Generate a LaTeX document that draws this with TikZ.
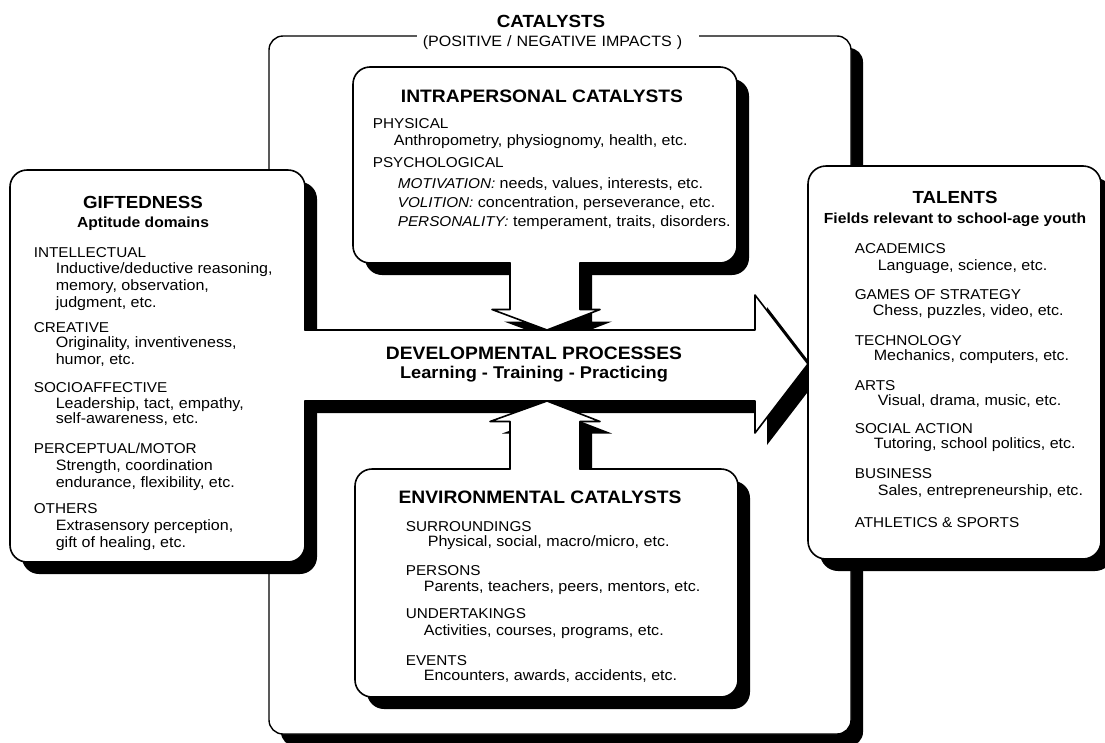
\documentclass[tikz,border=0pt]{standalone}
\usepackage{fontspec}
\setmainfont{Liberation Sans}[FakeStretch=1.07]
\newcommand\capit[1]{{\fontsize{14.3}{16}\selectfont\itshape #1}}
\begin{document}
\begin{tikzpicture}[x=1pt,y=-1pt, line width=1.6pt, line join=round, line cap=round,
  shad/.style={fill=black, shift={(12,12)}},
  lab/.style={anchor=base west, inner sep=0pt, font=\fontsize{14.3}{16}\selectfont},
  itm/.style={anchor=base west, inner sep=0pt, font=\fontsize{15}{17}\selectfont},
  hd/.style={anchor=base, inner sep=0pt, font=\fontsize{18}{20}\selectfont\bfseries},
  subhd/.style={anchor=base, inner sep=0pt, font=\fontsize{14.6}{16}\selectfont\bfseries}]
\useasboundingbox (0,0) rectangle (1105,742);
\fill[white] (0,0) rectangle (1105,742);
% outer frame
\fill[shad, rounded corners=14pt] (269,36) rectangle (851,734);
\draw[fill=white, line width=1.4pt, rounded corners=14pt] (269,36) rectangle (851,734);
\node[hd, font=\fontsize{17.6}{20}\selectfont\bfseries] (cat) at (551,27) {CATALYSTS};
\node[fill=white, anchor=west, inner sep=0pt, minimum height=20pt, text width=282pt, align=left,
  font=\fontsize{15}{17}\selectfont] (impacts) at (416,43) {\hspace*{6pt}(POSITIVE / NEGATIVE IMPACTS )};
% shadows
\fill[shad, rounded corners=17pt] (10,170) rectangle (305,562);
\fill[shad] (295,330) -- (755,330) -- (755,295) -- (808,364) -- (755,433) -- (755,401) -- (295,401) -- cycle;
\fill[shad, rounded corners=17pt] (353,67) rectangle (737,263);
\fill[shad] (510,250) -- (510,309.5) -- (492,309.5) -- (547,330) -- (600,309.5) -- (580,309.5) -- (580,250) -- cycle;
\fill[shad, rounded corners=17pt] (355,469) rectangle (738,697);
\fill[shad] (510,480) -- (510,421.5) -- (490,421.5) -- (547,401) -- (600,421.5) -- (580,421.5) -- (580,480) -- cycle;
\fill[shad, rounded corners=18pt] (808,166) rectangle (1101,559);
% white fills
\fill[white, rounded corners=17pt] (10,170) rectangle (305,562);
\fill[white] (295,330) -- (755,330) -- (755,295) -- (808,364) -- (755,433) -- (755,401) -- (295,401) -- cycle;
\fill[white, rounded corners=17pt] (353,67) rectangle (737,263);
\fill[white] (510,250) -- (510,309.5) -- (492,309.5) -- (547,330) -- (600,309.5) -- (580,309.5) -- (580,250) -- cycle;
\fill[white, rounded corners=17pt] (355,469) rectangle (738,697);
\fill[white] (510,480) -- (510,421.5) -- (490,421.5) -- (547,401) -- (600,421.5) -- (580,421.5) -- (580,480) -- cycle;
\fill[white, rounded corners=18pt] (808,166) rectangle (1101,559);
% outlines
\draw[rounded corners=17pt] (305,401) -- (305,562) -- (10,562) -- (10,170) -- (305,170) -- (305,330);
\draw (305,330) -- (755,330) -- (755,295) -- (808,364) -- (755,433) -- (755,401) -- (305,401);
\draw[rounded corners=17pt] (580,263) -- (737,263) -- (737,67) -- (353,67) -- (353,263) -- (510,263);
\draw (510,263) -- (510,309.5) -- (492,309.5) -- (547,330) -- (600,309.5) -- (580,309.5) -- (580,263);
\draw[rounded corners=17pt] (510,469) -- (355,469) -- (355,697) -- (738,697) -- (738,469) -- (580,469);
\draw (510,469) -- (510,421.5) -- (490,421.5) -- (547,401) -- (600,421.5) -- (580,421.5) -- (580,469);
\draw[rounded corners=18pt] (808,166) rectangle (1101,559);
% developmental processes
\node[hd] (dev1) at (534,359) {DEVELOPMENTAL PROCESSES};
\node[hd, font=\fontsize{17}{19}\selectfont\bfseries] (dev2) at (534,378) {Learning - Training - Practicing};
% giftedness
\node[hd, font=\fontsize{17.5}{20}\selectfont\bfseries] (g0) at (143,208) {GIFTEDNESS};
\node[subhd] (g1) at (143,227) {Aptitude domains};
\node[lab] (g2) at (33,257) {INTELLECTUAL};
\node[itm] (g3) at (55,273) {Inductive/deductive reasoning,};
\node[itm] (g4) at (55,290) {memory, observation,};
\node[itm] (g5) at (55,307) {judgment, etc.};
\node[lab] (g6) at (33,332) {CREATIVE};
\node[itm] (g7) at (55,347) {Originality, inventiveness,};
\node[itm] (g8) at (55,364) {humor, etc.};
\node[lab] (g9) at (33,392) {SOCIOAFFECTIVE};
\node[itm] (g10) at (55,408) {Leadership, tact, empathy,};
\node[itm] (g11) at (55,423) {self-awareness, etc.};
\node[lab] (g12) at (33,453) {PERCEPTUAL/MOTOR};
\node[itm] (g13) at (55,470) {Strength, coordination};
\node[itm] (g14) at (55,487) {endurance, flexibility, etc.};
\node[lab] (g15) at (33,513) {OTHERS};
\node[itm] (g16) at (55,530) {Extrasensory perception,};
\node[itm] (g17) at (55,547) {gift of healing, etc.};
% intrapersonal
\node[hd] (i0) at (542,102) {INTRAPERSONAL CATALYSTS};
\node[lab] (i1) at (372,128) {PHYSICAL};
\node[itm] (i2) at (393,145) {Anthropometry, physiognomy, health, etc.};
\node[lab] (i3) at (372,167) {PSYCHOLOGICAL};
\node[itm] (i4) at (397,188) {\capit{MOTIVATION:} needs, values, interests, etc.};
\node[itm] (i5) at (397,207) {\capit{VOLITION:} concentration, perseverance, etc.};
\node[itm] (i6) at (397,226) {\capit{PERSONALITY:} temperament, traits, disorders.};
% environmental
\node[hd] (e0) at (540,503) {ENVIRONMENTAL CATALYSTS};
\node[lab] (e1) at (405,531) {SURROUNDINGS};
\node[itm] (e2) at (427,546) {Physical, social, macro/micro, etc.};
\node[lab] (e3) at (405,575) {PERSONS};
\node[itm] (e4) at (423,591) {Parents, teachers, peers, mentors, etc.};
\node[lab] (e5) at (405,618) {UNDERTAKINGS};
\node[itm] (e6) at (423,635) {Activities, courses, programs, etc.};
\node[lab] (e7) at (405,665) {EVENTS};
\node[itm] (e8) at (423,680) {Encounters, awards, accidents, etc.};
% talents
\node[hd, font=\fontsize{17.5}{20}\selectfont\bfseries] (t0) at (955,203) {TALENTS};
\node[subhd] (t1) at (955,223) {Fields relevant to school-age youth};
\node[lab] (t2) at (854,253) {ACADEMICS};
\node[itm] (t3) at (877,270) {Language, science, etc.};
\node[lab] (t4) at (854,299) {GAMES OF STRATEGY};
\node[itm] (t5) at (872,315) {Chess, puzzles, video, etc.};
\node[lab] (t6) at (854,345) {TECHNOLOGY};
\node[itm] (t7) at (873,360) {Mechanics, computers, etc.};
\node[lab] (t8) at (854,390) {ARTS};
\node[itm] (t9) at (877,405) {Visual, drama, music, etc.};
\node[lab] (t10) at (854,433) {SOCIAL ACTION};
\node[itm] (t11) at (873,448) {Tutoring, school politics, etc.};
\node[lab] (t12) at (854,478) {BUSINESS};
\node[itm] (t13) at (877,495) {Sales, entrepreneurship, etc.};
\node[lab] (t14) at (854,527) {ATHLETICS \& SPORTS};
\end{tikzpicture}
\end{document}
